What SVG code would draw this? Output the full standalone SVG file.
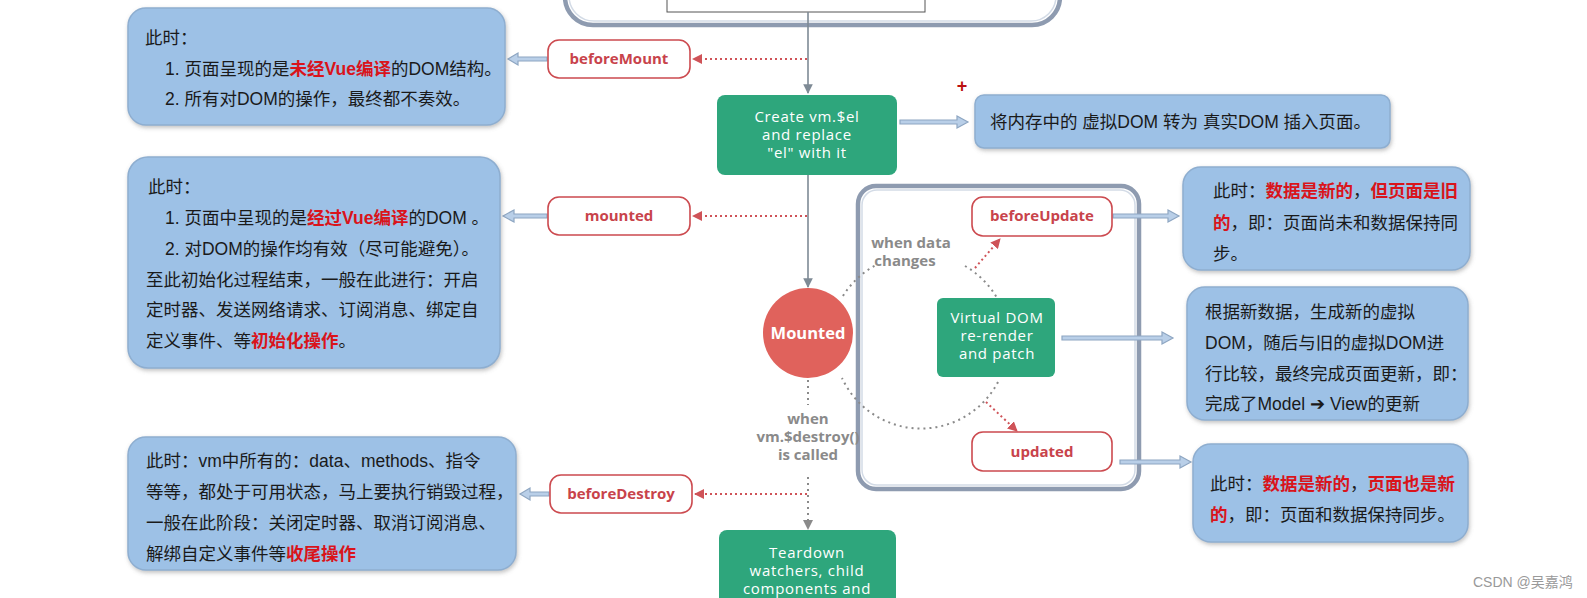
<svg xmlns="http://www.w3.org/2000/svg" width="1587" height="598" viewBox="0 0 1587 598">
<style>
.note{fill:#9dc1e6;stroke:#8eaed0;stroke-width:1.5;filter:url(#sh)}
.cn{font-family:"Liberation Sans","Noto Sans CJK SC",sans-serif;font-size:17.5px;fill:#1a1a1a}
.hl{fill:#d9141b;font-weight:bold}
.hook{fill:#fff;stroke:#cc4a4f;stroke-width:1.6}
.hookt{font-family:"Open Sans","Noto Sans",sans-serif;font-size:15px;font-weight:bold;fill:#c8434b;text-anchor:middle}
.green{fill:#2ea67c}
.gt{font-family:"Open Sans","Noto Sans",sans-serif;font-size:15px;letter-spacing:0.7px;fill:#fff;text-anchor:middle}
.gray{font-family:"Open Sans","Noto Sans",sans-serif;font-size:15px;font-weight:bold;fill:#8a8a8a;text-anchor:middle}
.rdot{stroke:#cf5358;stroke-width:2;stroke-dasharray:2 3;fill:none}
.gdot{stroke:#8a8a8a;stroke-width:2;stroke-dasharray:2 4;fill:none}
.solid{stroke:#7e8a95;stroke-width:1.6;fill:none}
.hollow{fill:#b9cfe8;stroke:#8ea6c2;stroke-width:1.2}
.frame{fill:#fff;stroke:#8e9bb0;stroke-width:4.5}
.frame2{fill:none;stroke:#d3dbe6;stroke-width:1.5}
</style>
<defs>
<filter id="sh" x="-10%" y="-10%" width="120%" height="125%">
<feDropShadow dx="1" dy="2" stdDeviation="2" flood-color="#777" flood-opacity="0.45"/>
</filter>
<marker id="ar" viewBox="0 0 10 10" refX="9" refY="5" markerWidth="5" markerHeight="5" orient="auto">
<path d="M0,0 L10,5 L0,10 z" fill="#cf5358"/>
</marker>
<marker id="ag" viewBox="0 0 10 10" refX="9" refY="5" markerWidth="6" markerHeight="6" orient="auto">
<path d="M0,0 L10,5 L0,10 z" fill="#7e8a95"/>
</marker>
<marker id="agd" viewBox="0 0 10 10" refX="9" refY="5" markerWidth="5" markerHeight="5" orient="auto">
<path d="M0,0 L10,5 L0,10 z" fill="#8a8a8a"/>
</marker>
</defs>
<rect width="1587" height="598" fill="#fff"/>

<g id="top-frame">
<rect class="frame" x="565" y="-40" width="495" height="65" rx="28"/>
<rect class="frame2" x="569" y="-36" width="487" height="57" rx="25"/>
<rect x="667" y="-10" width="258" height="22" fill="#fff" stroke="#555" stroke-width="1"/>
</g>

<g id="update-frame">
<rect class="frame" x="858" y="186" width="281" height="303" rx="18"/>
<rect class="frame2" x="862" y="190" width="273" height="295" rx="15"/>
</g>

<g id="connectors">
<line class="solid" x1="808" y1="12" x2="808" y2="93" marker-end="url(#ag)"/>
<line class="solid" x1="808" y1="175" x2="808" y2="287" marker-end="url(#ag)"/>
<line class="rdot" x1="807" y1="59" x2="693" y2="59" marker-end="url(#ar)"/>
<line class="rdot" x1="807" y1="216" x2="693" y2="216" marker-end="url(#ar)"/>
<line class="rdot" x1="807" y1="494" x2="695" y2="494" marker-end="url(#ar)"/>
<line class="gdot" x1="808" y1="380" x2="808" y2="405"/>
<line class="gdot" x1="808" y1="477" x2="808" y2="529" marker-end="url(#agd)"/>
<path class="gdot" d="M843,296 A87,87 0 0 1 878,264"/>
<path class="gdot" d="M965,266 A87,87 0 0 1 997,298"/>
<path class="gdot" d="M998,382 A87,87 0 0 1 842,378"/>
<line class="rdot" x1="975" y1="268" x2="1000" y2="239" marker-end="url(#ar)"/>
<line class="rdot" x1="986" y1="402" x2="1017" y2="431" marker-end="url(#ar)"/>
<path class="hollow" d="M547,57 L518,57 L518,53 L508,59 L518,65 L518,61 L547,61 z"/>
<path class="hollow" d="M547,214 L514,214 L514,210 L503,216 L514,222 L514,218 L547,218 z"/>
<path class="hollow" d="M549,492 L530,492 L530,488 L520,494 L530,500 L530,496 L549,496 z"/>
<path class="hollow" d="M900,120 L957,120 L957,116 L968,122 L957,128 L957,124 L900,124 z"/>
<path class="hollow" d="M1113,214 L1168,214 L1168,210 L1179,216 L1168,222 L1168,218 L1113,218 z"/>
<path class="hollow" d="M1062,336 L1162,336 L1162,332 L1173,338 L1162,344 L1162,340 L1062,340 z"/>
<path class="hollow" d="M1120,460 L1180,460 L1180,456 L1191,462 L1180,468 L1180,464 L1120,464 z"/>
</g>

<g id="beforeMount">
<rect class="hook" x="548" y="40" width="142" height="38" rx="11"/>
<text class="hookt" x="619" y="64">beforeMount</text>
</g>
<g id="mounted">
<rect class="hook" x="548" y="197" width="142" height="38" rx="11"/>
<text class="hookt" x="619" y="221">mounted</text>
</g>
<g id="beforeDestroy">
<rect class="hook" x="550" y="475" width="142" height="38" rx="11"/>
<text class="hookt" x="621" y="499">beforeDestroy</text>
</g>
<g id="beforeUpdate">
<rect class="hook" x="972" y="197" width="140" height="39" rx="11"/>
<text class="hookt" x="1042" y="221">beforeUpdate</text>
</g>
<g id="updated">
<rect class="hook" x="972" y="432" width="140" height="39" rx="11"/>
<text class="hookt" x="1042" y="457">updated</text>
</g>

<g id="create-el">
<rect class="green" x="717" y="95" width="180" height="80" rx="8"/>
<text class="gt" x="807" y="122">Create vm.$el</text>
<text class="gt" x="807" y="140">and replace</text>
<text class="gt" x="807" y="158">"el" with it</text>
</g>

<g id="mounted-state">
<circle cx="808" cy="333" r="45" fill="#e0625c"/>
<text x="808" y="339" font-family="Open Sans, Noto Sans, sans-serif" font-size="16.5" font-weight="bold" fill="#fff" text-anchor="middle">Mounted</text>
</g>

<g id="virtual-dom">
<rect class="green" x="937" y="298" width="118" height="79" rx="6"/>
<text class="gt" x="997" y="323">Virtual DOM</text>
<text class="gt" x="997" y="341">re-render</text>
<text class="gt" x="997" y="359">and patch</text>
</g>

<g id="teardown">
<rect class="green" x="719" y="530" width="177" height="80" rx="8"/>
<text class="gt" x="807" y="558">Teardown</text>
<text class="gt" x="807" y="576">watchers, child</text>
<text class="gt" x="807" y="594">components and</text>
</g>

<g id="data-changes-label">
<text class="gray" x="911" y="248">when data</text>
<text class="gray" x="905" y="266">changes</text>
</g>
<g id="destroy-label">
<text class="gray" x="808" y="424">when</text>
<text class="gray" x="808" y="442">vm.$destroy()</text>
<text class="gray" x="808" y="460">is called</text>
</g>

<g id="note-beforeMount">
<rect class="note" x="128" y="8" width="377" height="117" rx="18"/>
<text class="cn" x="145" y="44">此时：</text>
<text class="cn" x="165" y="75">1. 页面呈现的是<tspan class="hl">未经Vue编译</tspan>的DOM结构。</text>
<text class="cn" x="165" y="105">2. 所有对DOM的操作，最终都不奏效。</text>
</g>

<g id="note-mounted">
<rect class="note" x="128" y="157" width="372" height="211" rx="20"/>
<text class="cn" x="148" y="193">此时：</text>
<text class="cn" x="165" y="224">1. 页面中呈现的是<tspan class="hl">经过Vue编译</tspan>的DOM 。</text>
<text class="cn" x="165" y="255">2. 对DOM的操作均有效（尽可能避免）。</text>
<text class="cn" x="146" y="286">至此初始化过程结束，一般在此进行：开启</text>
<text class="cn" x="146" y="316">定时器、发送网络请求、订阅消息、绑定自</text>
<text class="cn" x="146" y="347">定义事件、等<tspan class="hl">初始化操作</tspan>。</text>
</g>

<g id="note-beforeDestroy">
<rect class="note" x="128" y="437" width="388" height="133" rx="18"/>
<text class="cn" x="146" y="467">此时：vm中所有的：data、methods、指令</text>
<text class="cn" x="146" y="498">等等，都处于可用状态，马上要执行销毁过程，</text>
<text class="cn" x="146" y="529">一般在此阶段：关闭定时器、取消订阅消息、</text>
<text class="cn" x="146" y="560">解绑自定义事件等<tspan class="hl">收尾操作</tspan></text>
</g>

<g id="note-create">
<rect class="note" x="975" y="95" width="415" height="53" rx="9"/>
<text class="cn" x="990" y="128">将内存中的 虚拟DOM 转为 真实DOM 插入页面。</text>
</g>

<g id="note-beforeUpdate">
<rect class="note" x="1183" y="167" width="287" height="103" rx="18"/>
<text class="cn" x="1213" y="197">此时：<tspan class="hl">数据是新的</tspan>，<tspan class="hl">但页面是旧</tspan></text>
<text class="cn" x="1213" y="229"><tspan class="hl">的</tspan>，即：页面尚未和数据保持同</text>
<text class="cn" x="1213" y="260">步。</text>
</g>

<g id="note-render">
<rect class="note" x="1187" y="287" width="281" height="133" rx="18"/>
<text class="cn" x="1205" y="318">根据新数据，生成新的虚拟</text>
<text class="cn" x="1205" y="349">DOM，随后与旧的虚拟DOM进</text>
<text class="cn" x="1205" y="380">行比较，最终完成页面更新，即：</text>
<text class="cn" x="1205" y="410">完成了Model ➔ View的更新</text>
</g>

<g id="note-updated">
<rect class="note" x="1193" y="444" width="275" height="98" rx="18"/>
<text class="cn" x="1210" y="490">此时：<tspan class="hl">数据是新的</tspan>，<tspan class="hl">页面也是新</tspan></text>
<text class="cn" x="1210" y="521"><tspan class="hl">的</tspan>，即：页面和数据保持同步。</text>
</g>

<g id="plus-mark">
<text x="962" y="92" font-family="Liberation Sans, sans-serif" font-size="18" font-weight="bold" fill="#b11" text-anchor="middle">+</text>
</g>

<g id="watermark">
<text x="1473" y="587" font-family="Liberation Sans, Noto Sans CJK SC, sans-serif" font-size="14" fill="#999">CSDN @吴嘉鸿</text>
</g>
</svg>
